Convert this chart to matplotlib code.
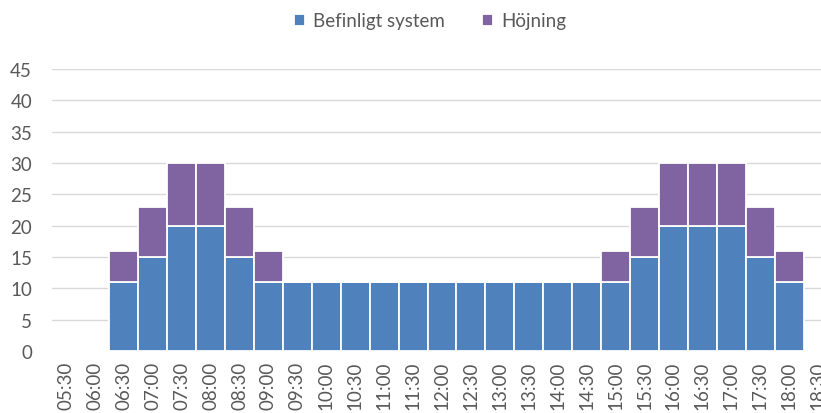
import numpy as np
import matplotlib.pyplot as plt

# tider och värden
times = ['05:30', '06:00', '06:30', '07:00', '07:30', '08:00', '08:30', '09:00',
         '09:30', '10:00', '10:30', '11:00', '11:30', '12:00', '12:30', '13:00',
         '13:30', '14:00', '14:30', '15:00', '15:30', '16:00', '16:30', '17:00',
         '17:30', '18:00', '18:30']
befintligt = [0, 0, 11, 15, 20, 20, 15, 11,
              11, 11, 11, 11, 11, 11, 11, 11,
              11, 11, 11, 11, 15, 20, 20, 20,
              15, 11, 0]
hojning = [0, 0, 5, 8, 10, 10, 8, 5,
           0, 0, 0, 0, 0, 0, 0, 0,
           0, 0, 0, 5, 8, 10, 10, 10,
           8, 5, 0]
yticks = [0, 5, 10, 15, 20, 25, 30, 35, 40, 45]

blue = '#4F81BD'
purple = '#8064A2'
textcol = '#595959'

plt.rcParams['font.family'] = ['Lato', 'DejaVu Sans']

fig = plt.figure(figsize=(8.21, 4.14), dpi=100)
# axeln går utanför bilden till höger, som i originalet
ax = fig.add_axes([51.5 / 821, 1 - 352 / 414, (832.5 - 51.5) / 821, (352 - 70) / 414])

x = np.arange(len(times))
ax.bar(x, befintligt, width=1.0, color=blue, edgecolor='white', linewidth=1.3,
       label='Befinligt system', zorder=3)
ax.bar(x, hojning, width=1.0, bottom=befintligt, color=purple, edgecolor='white',
       linewidth=1.3, label='Höjning', zorder=3)

ax.set_xlim(-0.5, len(times) - 0.5)
ax.set_ylim(0, 45)
ax.set_yticks(yticks)
ax.set_xticks(x)
ax.set_xticklabels(times, rotation=90, fontsize=13.5, color=textcol)
ax.tick_params(axis='y', labelsize=13.5, labelcolor=textcol, length=0, pad=14)
ax.tick_params(axis='x', length=0, pad=7)
ax.yaxis.grid(True, color='#D9D9D9', linewidth=1.0, zorder=0)
for s in ax.spines.values():
    s.set_visible(False)
ax.axhline(0, color='#D9D9D9', linewidth=1.2, zorder=1)

fig.legend(loc='center', bbox_to_anchor=(430 / 821, 1 - 22 / 414), ncol=2,
           frameon=False, fontsize=13.5, labelcolor=textcol, handlelength=0.6,
           handleheight=0.6, handletextpad=0.4, columnspacing=2.0)

plt.savefig('out.png', dpi=100)
